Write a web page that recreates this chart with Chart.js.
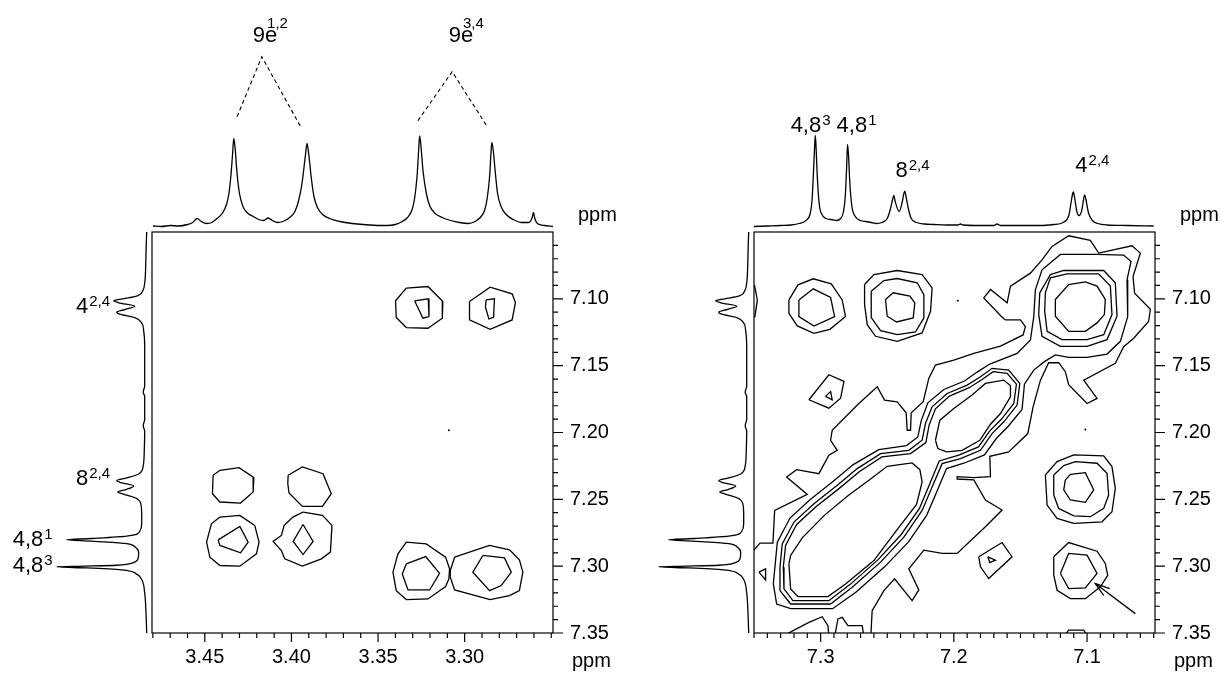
<!DOCTYPE html>
<html>
<head>
<meta charset="utf-8">
<script src="https://cdn.jsdelivr.net/npm/chart.js@4.4.1/dist/chart.umd.min.js"></script>
<style>
  html, body { margin: 0; padding: 0; background: #fff; }
  body { width: 1225px; height: 673px; position: relative; overflow: hidden; }
  canvas { position: absolute; }
</style>
</head>
<body>
<canvas id="topA" width="490" height="231" style="left:152px;top:0px"></canvas>
<canvas id="sideA" width="150" height="401" style="left:0px;top:232px"></canvas>
<canvas id="mainA" width="487" height="447" style="left:146px;top:226px"></canvas>
<canvas id="topB" width="490" height="231" style="left:754px;top:0px"></canvas>
<canvas id="sideB" width="150" height="401" style="left:602px;top:232px"></canvas>
<canvas id="mainB" width="487" height="447" style="left:748px;top:226px"></canvas>
<script>
const FONT = '"Liberation Sans", Arial, Helvetica, sans-serif';

// ---------- 1D traces: [ppm, height] ----------
// F2 trace above the 9e / 4,8 panel (3.48 - 3.25 ppm)
const topSpecA = [[3.480,0.5],[3.475,0],[3.470,1],[3.465,0.5],[3.460,2],[3.457,4],[3.4545,8],[3.452,5],[3.449,3],[3.446,4],[3.443,8],[3.440,13],[3.4375,22],[3.436,34],[3.435,50],[3.434,72],[3.4333,88],[3.4325,78],[3.4315,55],[3.430,33],[3.428,20],[3.425,13],[3.422,10],[3.419,7],[3.416,6],[3.4135,8.5],[3.411,6],[3.408,4],[3.405,5],[3.401,9],[3.398,15],[3.396,25],[3.394,42],[3.392,70],[3.391,83],[3.390,72],[3.3885,48],[3.387,30],[3.385,19],[3.382,12],[3.378,8],[3.372,5],[3.365,3],[3.355,1.5],[3.345,1],[3.340,2],[3.336,5],[3.333,9],[3.3305,16],[3.329,27],[3.3275,50],[3.3265,78],[3.326,90.5],[3.3252,80],[3.324,55],[3.322,32],[3.320,20],[3.317,13],[3.313,9],[3.308,6],[3.303,4],[3.298,3],[3.294,5],[3.291,9],[3.2885,16],[3.287,28],[3.2855,52],[3.2848,74],[3.2843,84],[3.2835,76],[3.2822,52],[3.281,33],[3.279,20],[3.276,12],[3.272,7],[3.267,4],[3.263,4],[3.261,9],[3.2603,14],[3.2595,8],[3.258,3],[3.254,1],[3.249,0]];

// F2 trace above the aromatic panel (7.35 - 7.05 ppm)
const topSpecB = [[7.350,0],[7.340,0.5],[7.330,1],[7.322,1.5],[7.316,3],[7.311,6],[7.308,12],[7.3065,25],[7.3055,50],[7.3045,80],[7.304,91],[7.3035,82],[7.3025,50],[7.301,22],[7.299,12],[7.296,8],[7.292,7],[7.288,6],[7.285,8],[7.283,14],[7.2815,30],[7.2805,58],[7.2798,82],[7.279,70],[7.278,42],[7.2765,20],[7.274,10],[7.270,6],[7.266,5],[7.262,4],[7.258,3],[7.254,4],[7.250,8],[7.2475,18],[7.2458,28],[7.245,31],[7.2442,26],[7.241,15],[7.2385,26],[7.2375,33],[7.2368,35.3],[7.236,31],[7.2345,20],[7.232,8],[7.228,4],[7.222,2.5],[7.215,2],[7.205,1.5],[7.197,1.5],[7.195,2.5],[7.193,1.5],[7.180,1],[7.170,1],[7.1675,2.5],[7.165,1],[7.150,1],[7.135,1],[7.125,2],[7.118,4],[7.1135,12],[7.112,24],[7.1108,33],[7.1103,34.7],[7.1095,30],[7.1075,14],[7.106,11],[7.104,16],[7.1025,28],[7.1018,31.7],[7.101,28],[7.099,14],[7.096,6],[7.092,3],[7.085,1.5],[7.070,1],[7.050,0.5]];

// F1 trace on the left of both panels (7.05 - 7.35 ppm)
const sideSpec = [[7.050,0],[7.060,0.5],[7.075,1],[7.088,2],[7.094,4],[7.098,10],[7.100,24],[7.1015,33],[7.103,28],[7.1055,12],[7.108,22],[7.110,30],[7.1115,27],[7.114,12],[7.118,5],[7.124,3],[7.135,2],[7.150,2],[7.165,2],[7.170,3.5],[7.173,2],[7.190,2],[7.195,3.5],[7.199,2],[7.215,2.5],[7.225,3.5],[7.231,8],[7.234,20],[7.236,30],[7.2375,26],[7.240,13],[7.2425,20],[7.2445,29],[7.246,24],[7.249,11],[7.253,6],[7.260,5],[7.268,5],[7.274,7],[7.2775,20],[7.2793,55],[7.2803,80],[7.2813,55],[7.283,22],[7.286,11],[7.290,8],[7.295,9],[7.2975,14],[7.2993,30],[7.300,62],[7.3005,90],[7.3013,60],[7.3028,25],[7.306,10],[7.310,5],[7.320,2],[7.330,1],[7.350,0]];

// ---------- contours, left panel: [F2 ppm, F1 ppm] ----------
const a9e3at4o = [[3.3337,7.092],[3.3212,7.0908],[3.3126,7.102],[3.3129,7.1145],[3.3212,7.122],[3.3337,7.1215],[3.3395,7.114],[3.3399,7.1015]];
const a9e3at4i = [[3.3289,7.1015],[3.3210,7.1000],[3.3206,7.1133],[3.3241,7.1145]];
const a9e4at4o = [[3.2972,7.102],[3.2853,7.0913],[3.2726,7.0963],[3.2707,7.1028],[3.2726,7.1158],[3.2853,7.1228],[3.2972,7.1158]];
const a9e4at4i = [[3.2876,7.1008],[3.2828,7.1000],[3.2833,7.1138],[3.2860,7.1150],[3.2880,7.1063]];
const a9e1at8 = [[3.4452,7.232],[3.4413,7.2283],[3.4302,7.2263],[3.4217,7.2338],[3.4221,7.2445],[3.4294,7.2528],[3.4413,7.252],[3.4456,7.2458]];
const a9e2at8 = [[3.4019,7.232],[3.3937,7.2258],[3.3818,7.2308],[3.3770,7.2458],[3.3821,7.2553],[3.3937,7.2553],[3.4014,7.2453],[3.4021,7.2383]];
const a9e1at48o = [[3.4413,7.2633],[3.4298,7.262],[3.4212,7.2695],[3.4187,7.282],[3.4202,7.2908],[3.4298,7.300],[3.4413,7.2995],[3.4471,7.2933],[3.4490,7.282],[3.4462,7.2683]];
const a9e1at48i = [[3.4423,7.2803],[3.4298,7.2703],[3.4250,7.282],[3.4294,7.290],[3.4413,7.2845]];
const a9e2at48o = [[3.3933,7.2595],[3.3821,7.262],[3.3766,7.2695],[3.3775,7.2895],[3.3827,7.2945],[3.3937,7.300],[3.4039,7.2945],[3.4058,7.2883],[3.4106,7.2815],[3.4058,7.277],[3.4042,7.2695],[3.3991,7.2633]];
const a9e2at48i = [[3.3933,7.2688],[3.3875,7.2815],[3.3933,7.2913],[3.3990,7.2815]];
const a9e3at48o = [[3.3337,7.282],[3.3222,7.2833],[3.3110,7.2933],[3.3087,7.3020],[3.3091,7.3095],[3.3110,7.3153],[3.3212,7.3245],[3.3337,7.325],[3.3395,7.3183],[3.3414,7.3045],[3.3385,7.2908]];
const a9e3at48i = [[3.3337,7.2983],[3.3225,7.2928],[3.3145,7.3053],[3.3202,7.3178],[3.3327,7.3178],[3.3360,7.3058]];
const a9e4at48o = [[3.3058,7.2933],[3.2857,7.2845],[3.2741,7.2878],[3.2684,7.2953],[3.2664,7.3045],[3.2684,7.3183],[3.2741,7.322],[3.2853,7.325],[3.3058,7.3178],[3.3083,7.3083],[3.3083,7.3033]];
const a9e4at48i = [[3.2895,7.292],[3.2770,7.2938],[3.2731,7.3045],[3.2789,7.3145],[3.2856,7.3183],[3.2953,7.3045]];
const dotsA = [[3.3091,7.1983]];

// ---------- contours, right panel: [F2 ppm, F1 ppm] ----------
const b48at4o = [[7.3238,7.1008],[7.317,7.0895],[7.3055,7.085],[7.292,7.0888],[7.2838,7.1008],[7.2813,7.1133],[7.293,7.1228],[7.305,7.1258],[7.3175,7.1203],[7.3238,7.1108]];
const b48at4i = [[7.3163,7.1008],[7.3055,7.0925],[7.2925,7.099],[7.2895,7.1133],[7.305,7.1203],[7.3163,7.1133]];
const b8at4a = [[7.267,7.0893],[7.26,7.0818],[7.2425,7.0788],[7.2238,7.0818],[7.2163,7.0918],[7.2175,7.1093],[7.2238,7.1255],[7.2425,7.1318],[7.2588,7.128],[7.265,7.1193],[7.267,7.1043]];
const b8at4b = [[7.262,7.0943],[7.2525,7.0863],[7.2425,7.0848],[7.2275,7.088],[7.2225,7.0968],[7.2225,7.1143],[7.2288,7.1248],[7.2425,7.1268],[7.255,7.1238],[7.2618,7.1143]];
const b8at4c = [[7.2513,7.1005],[7.2455,7.0955],[7.233,7.098],[7.2293,7.103],[7.2305,7.1143],[7.243,7.1173],[7.25,7.113]];
const b4diagA = [[7.1355,7.0955],[7.1275,7.0818],[7.1175,7.0788],[7.0875,7.0788],[7.0788,7.088],[7.0775,7.113],[7.085,7.1305],[7.1,7.1355],[7.12,7.1355],[7.1338,7.128],[7.1363,7.1118]];
const b4diagB = [[7.1313,7.0955],[7.1275,7.0843],[7.115,7.0813],[7.0913,7.0813],[7.0825,7.0905],[7.0813,7.1118],[7.0875,7.1268],[7.1,7.1305],[7.1188,7.1305],[7.13,7.1243],[7.1318,7.1093]];
const b4diagC = [[7.1238,7.1005],[7.1138,7.0893],[7.1013,7.0873],[7.0925,7.0905],[7.0863,7.1005],[7.087,7.1118],[7.0925,7.118],[7.1013,7.1243],[7.1138,7.1243],[7.1238,7.113]];
const b4at8a = [[7.1313,7.2318],[7.1225,7.2218],[7.11,7.2168],[7.0875,7.2175],[7.0813,7.2255],[7.0788,7.2418],[7.0813,7.2593],[7.0888,7.2668],[7.11,7.268],[7.1225,7.2643],[7.13,7.2543]];
const b4at8b = [[7.125,7.2318],[7.1175,7.2248],[7.1088,7.2218],[7.0925,7.223],[7.085,7.2305],[7.0838,7.2468],[7.0875,7.2568],[7.0975,7.263],[7.11,7.2623],[7.1213,7.2568],[7.125,7.2468]];
const b4at8c = [[7.1163,7.2355],[7.1125,7.2313],[7.1013,7.23],[7.095,7.243],[7.1013,7.2523],[7.1125,7.2505],[7.1175,7.243]];
const b4at48o = [[7.125,7.293],[7.1138,7.2823],[7.0925,7.2888],[7.0863,7.298],[7.0845,7.3068],[7.09,7.3155],[7.1013,7.3243],[7.1125,7.3243],[7.1225,7.318],[7.125,7.3068]];
const b4at48i = [[7.12,7.3055],[7.1138,7.2905],[7.1,7.2918],[7.0925,7.3055],[7.1013,7.3163],[7.1138,7.3168]];
const bSmall1o = [[7.1813,7.293],[7.1638,7.2823],[7.1563,7.293],[7.1738,7.3093],[7.18,7.3005]];
const bSmall1i = [[7.1745,7.293],[7.1688,7.2955],[7.173,7.2973]];
const bSmall2o = [[7.3088,7.1755],[7.2938,7.1568],[7.2825,7.1618],[7.285,7.1743],[7.2938,7.1818]];
const bSmall2i = [[7.2963,7.173],[7.2925,7.1693],[7.2913,7.1755]];
const bSmall3 = [[7.3463,7.3045],[7.3413,7.302],[7.3413,7.3103]];
const bEdgeTop = [[7.3525,7.0895],[7.3495,7.0903],[7.3475,7.1008],[7.3493,7.1133],[7.3525,7.1138]];
const bEdgeBottom = [[7.12,7.3558],[7.1138,7.3478],[7.1025,7.3478],[7.0975,7.3558]];
const bEdgeB1 = [[7.335,7.3558],[7.3088,7.342],[7.2988,7.3378],[7.2945,7.3445],[7.2935,7.3558]];
const bEdgeB2 = [[7.29,7.3558],[7.287,7.3395],[7.2838,7.3383],[7.2795,7.3445],[7.2688,7.3445],[7.267,7.3558]];
// diagonal ridge, outermost to innermost
const bRidge1 = [[7.3525,7.2908],[7.3455,7.2828],[7.3358,7.2828],[7.3345,7.2583],[7.31,7.2463],[7.3255,7.2333],[7.318,7.2278],[7.3013,7.2308],[7.2938,7.217],[7.2875,7.2133],[7.2925,7.2058],[7.2913,7.1983],[7.2713,7.1783],[7.2575,7.1658],[7.252,7.1758],[7.2425,7.177],[7.2358,7.1853],[7.235,7.1983],[7.2325,7.1983],[7.232,7.1853],[7.223,7.177],[7.2188,7.1595],[7.2138,7.1495],[7.2,7.1458],[7.185,7.1408],[7.165,7.1353],[7.148,7.127],[7.1463,7.1208],[7.15,7.1158],[7.1613,7.1158],[7.1645,7.113],[7.1775,7.0993],[7.1725,7.093],[7.16,7.103],[7.1575,7.0905],[7.1425,7.0808],[7.1338,7.0708],[7.1263,7.0608],[7.1138,7.0528],[7.0975,7.0563],[7.0913,7.0658],[7.0663,7.0603],[7.06,7.0658],[7.0655,7.0833],[7.0643,7.0958],[7.0525,7.1078],[7.0538,7.117],[7.065,7.1295],[7.0725,7.1358],[7.0788,7.1483],[7.1025,7.1608],[7.0925,7.1745],[7.1,7.1783],[7.1138,7.1643],[7.1163,7.1545],[7.1213,7.1478],[7.1288,7.1478],[7.135,7.1608],[7.1405,7.1808],[7.1445,7.2008],[7.1588,7.2145],[7.173,7.2178],[7.1725,7.233],[7.185,7.2338],[7.1975,7.233],[7.1975,7.2348],[7.185,7.2355],[7.1763,7.2505],[7.1638,7.258],[7.1763,7.2705],[7.1975,7.2905],[7.2088,7.2905],[7.2225,7.288],[7.2338,7.302],[7.2263,7.3178],[7.2313,7.3258],[7.2445,7.3095],[7.2525,7.3183],[7.2613,7.3333],[7.2625,7.3558],[7.2625,7.37],[7.37,7.37],[7.37,7.2908]];
const bRidge2 = [[7.3355,7.3133],[7.3325,7.282],[7.323,7.264],[7.308,7.2503],[7.2905,7.2365],[7.2755,7.224],[7.2563,7.2128],[7.2355,7.2098],[7.227,7.2033],[7.2245,7.1913],[7.2195,7.1778],[7.2075,7.1678],[7.192,7.1615],[7.1825,7.1548],[7.173,7.1488],[7.1525,7.1408],[7.1425,7.1308],[7.14,7.1133],[7.1388,7.0933],[7.1338,7.0783],[7.12,7.0668],[7.0925,7.0668],[7.0725,7.0673],[7.067,7.072],[7.07,7.0858],[7.0695,7.1133],[7.075,7.1318],[7.085,7.1413],[7.1,7.1438],[7.1138,7.1438],[7.1238,7.142],[7.132,7.147],[7.14,7.1533],[7.147,7.1638],[7.1488,7.1828],[7.1593,7.1955],[7.168,7.2043],[7.177,7.2168],[7.1925,7.223],[7.2055,7.227],[7.2128,7.2443],[7.2203,7.2618],[7.234,7.2818],[7.252,7.3005],[7.2733,7.3193],[7.291,7.3318],[7.3225,7.3318],[7.333,7.3283]];
const bRidge3 = [[7.3305,7.3008],[7.3305,7.3183],[7.3225,7.3283],[7.2925,7.3283],[7.2763,7.3158],[7.255,7.297],[7.2375,7.2783],[7.2238,7.2583],[7.2163,7.2408],[7.2088,7.2233],[7.195,7.2195],[7.18,7.2133],[7.1713,7.2008],[7.1625,7.192],[7.1525,7.1795],[7.1505,7.1633],[7.1588,7.1533],[7.1713,7.152],[7.18,7.1583],[7.19,7.1645],[7.205,7.1708],[7.2163,7.1808],[7.2213,7.1933],[7.2238,7.2058],[7.2338,7.2133],[7.255,7.2158],[7.2725,7.227],[7.2875,7.2395],[7.305,7.2533],[7.32,7.267],[7.3288,7.2833]];
const bRidge3b = [[7.328,7.3008],[7.3275,7.317],[7.3208,7.3258],[7.2938,7.3258],[7.278,7.3138],[7.257,7.2953],[7.2395,7.2763],[7.2258,7.2568],[7.2185,7.2395],[7.211,7.2213],[7.1963,7.217],[7.1815,7.2108],[7.173,7.1988],[7.1645,7.1903],[7.155,7.1783],[7.153,7.1638],[7.16,7.1558],[7.1705,7.1545],[7.1788,7.1603],[7.1885,7.1665],[7.2033,7.1728],[7.2138,7.1823],[7.2185,7.1943],[7.221,7.2075],[7.2325,7.2158],[7.254,7.2183],[7.271,7.2293],[7.286,7.2418],[7.3033,7.2553],[7.318,7.2688],[7.3263,7.2845]];
const bRidge4a = [[7.3238,7.2983],[7.3225,7.317],[7.317,7.3228],[7.2945,7.3228],[7.2813,7.3133],[7.26,7.2958],[7.243,7.2733],[7.228,7.2538],[7.2238,7.237],[7.2255,7.2278],[7.2313,7.2228],[7.25,7.2253],[7.2625,7.2348],[7.2795,7.2473],[7.297,7.2618],[7.3138,7.2788],[7.3225,7.292]];
const bRidge4b = [[7.2138,7.2058],[7.2105,7.1908],[7.2,7.182],[7.1863,7.172],[7.1763,7.1633],[7.1625,7.1608],[7.1575,7.165],[7.1575,7.1733],[7.165,7.1858],[7.1725,7.1938],[7.1805,7.2058],[7.1938,7.2133],[7.2055,7.2145],[7.212,7.212]];
const dotsB = [[7.197,7.1015],[7.1013,7.1978]];
const arrowB = [[7.0638,7.3355],[7.0938,7.313]];
const arrowHeadB = [[7.083,7.3168],[7.0938,7.313],[7.0875,7.3218]];

// ---------- axes ----------
const xTicksA = [3.25,3.26,3.27,3.28,3.29,3.30,3.31,3.32,3.33,3.34,3.35,3.36,3.37,3.38,3.39,3.40,3.41,3.42,3.43,3.44,3.45,3.46,3.47,3.48];
const xLabelsA = [3.45,3.40,3.35,3.30];
const xTicksB = [7.05,7.06,7.07,7.08,7.09,7.10,7.11,7.12,7.13,7.14,7.15,7.16,7.17,7.18,7.19,7.20,7.21,7.22,7.23,7.24,7.25,7.26,7.27,7.28,7.29,7.30,7.31,7.32,7.33,7.34,7.35];
const xLabelsB = [7.3,7.2,7.1];
const yTicks = [7.06,7.07,7.08,7.09,7.10,7.11,7.12,7.13,7.14,7.15,7.16,7.17,7.18,7.19,7.20,7.21,7.22,7.23,7.24,7.25,7.26,7.27,7.28,7.29,7.30,7.31,7.32,7.33,7.34,7.35];
const yLabels = [7.10,7.15,7.20,7.25,7.30,7.35];

// ---------- annotations ----------
const topLabelsA = [
  { x: 3.4223, y: 184.5, text: '9e', sup: '1,2', over: true },
  { x: 3.3092, y: 184.5, text: '9e', sup: '3,4', over: true }
];
const topDashesA = [
  [[3.4314,109.8],[3.4171,169.8],[3.3942,98.2]],
  [[3.3270,105.8],[3.3072,154.8],[3.2872,100.5]]
];
const topLabelsB = [
  { x: 7.3225, y: 94.5, text: '4,8', sup: '3' },
  { x: 7.2880, y: 94.5, text: '4,8', sup: '1' },
  { x: 7.2438, y: 49.5, text: '8', sup: '2,4' },
  { x: 7.1088, y: 54.5, text: '4', sup: '2,4' }
];
const sideLabelsA = [
  { x: 70.7, y: 7.1105, text: '4', sup: '2,4' },
  { x: 70.7, y: 7.2393, text: '8', sup: '2,4' },
  { x: 134, y: 7.2850, text: '4,8', sup: '1' },
  { x: 134, y: 7.3045, text: '4,8', sup: '3' }
];

const contoursA = [a9e3at4o, a9e3at4i, a9e4at4o, a9e4at4i, a9e1at8, a9e2at8, a9e1at48o, a9e1at48i,
  a9e2at48o, a9e2at48i, a9e3at48o, a9e3at48i, a9e4at48o, a9e4at48i];
const contoursB = [b48at4o, b48at4i, b8at4a, b8at4b, b8at4c, b4diagA, b4diagB, b4diagC, b4at8a, b4at8b, b4at8c,
  b4at48o, b4at48i, bSmall1o, bSmall1i, bSmall2o, bSmall2i, bSmall3, bEdgeTop, bEdgeBottom, bEdgeB1, bEdgeB2,
  bRidge1, bRidge2, bRidge3, bRidge3b, bRidge4a, bRidge4b];

const toXY = arr => arr.map(([x, y]) => ({ x, y }));
const closed = arr => toXY(arr.concat([arr[0]]));
const near = (v, list) => list.find(m => Math.abs(m - v) < 1e-6);

const base = {
  responsive: false,
  animation: false,
  events: [],
};

// labels with superscripts, and the "ppm" tag
const peakLabels = {
  id: 'peakLabels',
  afterDatasetsDraw(chart, args, o) {
    const { ctx, chartArea: a, scales: { x, y } } = chart;
    ctx.save();
    ctx.fillStyle = '#000';
    ctx.textAlign = 'left';
    ctx.textBaseline = 'alphabetic';
    (o.items || []).forEach(it => {
      const px = x.getPixelForValue(it.x);
      const py = y.getPixelForValue(it.y);
      ctx.font = `22px ${FONT}`;
      ctx.fillText(it.text, px, py);
      // superscript: after the text, or lifted over the trailing letter for "9e"
      const w = it.over ? ctx.measureText(it.text.slice(0, 1)).width + 2 : ctx.measureText(it.text).width + 1;
      ctx.font = `15px ${FONT}`;
      ctx.fillText(it.sup, px + w, py - (it.over ? 14 : 7));
    });
    if (o.ppm) {
      ctx.font = `20px ${FONT}`;
      ctx.textBaseline = 'middle';
      ctx.fillText('ppm', a.right + o.ppm.dx, a.bottom + o.ppm.dy);
    }
    ctx.restore();
  }
};

// frame box + long / short tick marks taken from the scales
const frameTicks = {
  id: 'frameTicks',
  afterDraw(chart, args, o) {
    const { ctx, chartArea: a, scales: { x, y } } = chart;
    ctx.save();
    ctx.strokeStyle = '#000';
    ctx.lineWidth = 1.2;
    ctx.strokeRect(a.left, a.top, a.right - a.left, a.bottom - a.top);
    ctx.beginPath();
    x.ticks.forEach(t => {
      const px = x.getPixelForValue(t.value);
      const len = near(t.value, o.xMajor) !== undefined ? 9 : 5;
      ctx.moveTo(px, a.bottom);
      ctx.lineTo(px, a.bottom + len);
    });
    y.ticks.forEach(t => {
      const py = y.getPixelForValue(t.value);
      const len = near(t.value, yLabels) !== undefined ? 10 : 5;
      ctx.moveTo(a.right, py);
      ctx.lineTo(a.right + len, py);
    });
    ctx.stroke();
    ctx.fillStyle = '#000';
    ctx.font = `20px ${FONT}`;
    ctx.textBaseline = 'middle';
    ctx.textAlign = 'left';
    ctx.fillText('ppm', a.right + 19, a.bottom + 28);
    ctx.restore();
  }
};

function topChart(id, spec, range, dashes, labels) {
  return new Chart(document.getElementById(id), {
    type: 'line',
    data: {
      datasets: [
        { data: toXY(spec), borderColor: '#000', borderWidth: 1.3, pointRadius: 0, cubicInterpolationMode: 'monotone' },
        ...dashes.map(d => ({ data: toXY(d), borderColor: '#000', borderWidth: 1.1, borderDash: [4, 3], pointRadius: 0, clip: false }))
      ]
    },
    options: {
      ...base,
      layout: { padding: { top: 126, right: 89, left: 0, bottom: 0 } },
      scales: {
        x: { type: 'linear', display: false, reverse: true, min: range[0], max: range[1] },
        y: { type: 'linear', display: false, min: -4.5, max: 100.5 }
      },
      plugins: {
        legend: { display: false },
        tooltip: { enabled: false },
        peakLabels: { items: labels, ppm: { dx: 25, dy: -16 } }
      }
    },
    plugins: [peakLabels]
  });
}

function sideChart(id, labels) {
  return new Chart(document.getElementById(id), {
    type: 'line',
    data: {
      datasets: [{ data: toXY(sideSpec.map(([p, h]) => [h, p])), borderColor: '#000', borderWidth: 1.3, pointRadius: 0, cubicInterpolationMode: 'monotone' }]
    },
    options: {
      ...base,
      indexAxis: 'y',
      layout: { padding: 0 },
      scales: {
        x: { type: 'linear', display: false, reverse: true, min: -3.3, max: 146.7 },
        y: { type: 'linear', display: false, reverse: true, min: 7.05, max: 7.35 }
      },
      plugins: {
        legend: { display: false },
        tooltip: { enabled: false },
        peakLabels: { items: labels }
      }
    },
    plugins: [peakLabels]
  });
}

function mainChart(id, contours, dots, extraLines, range, xTicks, xMajor, digits) {
  const lineStyle = { borderColor: '#000', borderWidth: 1.3, pointRadius: 0, showLine: true, fill: false };
  const datasets = contours.map(c => ({ data: closed(c), ...lineStyle }))
    .concat(extraLines.map(l => ({ data: toXY(l), ...lineStyle })))
    .concat([{ data: toXY(dots), showLine: false, pointRadius: 1, pointBorderWidth: 0, pointBackgroundColor: '#000' }]);
  return new Chart(document.getElementById(id), {
    type: 'scatter',
    data: { datasets },
    options: {
      ...base,
      layout: { padding: { left: 6, top: 6, right: 0, bottom: 0 } },
      scales: {
        x: {
          type: 'linear', reverse: true, min: range[0], max: range[1],
          afterBuildTicks: s => { s.ticks = xTicks.map(v => ({ value: v })); },
          // fixed axis band so the plot box lands where the reference has it
          afterFit: s => { s.height = 40; s.paddingLeft = 0; s.paddingRight = 0; },
          grid: { display: false, drawTicks: false },
          border: { display: false },
          ticks: {
            autoSkip: false, maxRotation: 0, padding: 12, color: '#000',
            font: { family: FONT, size: 20 },
            callback: v => { const m = near(v, xMajor); return m === undefined ? '' : m.toFixed(digits); }
          }
        },
        y: {
          type: 'linear', position: 'right', reverse: true, min: 7.05, max: 7.35,
          afterBuildTicks: s => { s.ticks = yTicks.map(v => ({ value: v })); },
          afterFit: s => { s.width = 80; s.paddingTop = 0; s.paddingBottom = 0; },
          grid: { display: false, drawTicks: false },
          border: { display: false },
          ticks: {
            autoSkip: false, padding: 17, color: '#000',
            font: { family: FONT, size: 20 },
            callback: v => { const m = near(v, yLabels); return m === undefined ? '' : m.toFixed(2); }
          }
        }
      },
      plugins: {
        legend: { display: false },
        tooltip: { enabled: false },
        frameTicks: { xMajor }
      }
    },
    plugins: [frameTicks]
  });
}

topChart('topA', topSpecA, [3.249, 3.4805], topDashesA, topLabelsA);
topChart('topB', topSpecB, [7.049, 7.35], [], topLabelsB);
sideChart('sideA', sideLabelsA);
sideChart('sideB', []);
mainChart('mainA', contoursA, dotsA, [], [3.249, 3.4805], xTicksA, xLabelsA, 2);
mainChart('mainB', contoursB, dotsB, [arrowB, arrowHeadB], [7.049, 7.35], xTicksB, xLabelsB, 1);
</script>
</body>
</html>
